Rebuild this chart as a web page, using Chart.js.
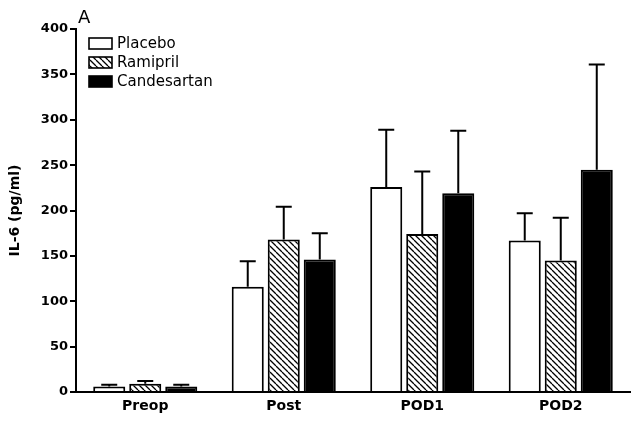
<!DOCTYPE html>
<html>
<head>
<meta charset="utf-8">
<script src="https://cdn.jsdelivr.net/npm/chart.js@4.4.0/dist/chart.umd.min.js"></script>
<style>
html,body{margin:0;padding:0;background:#fff;}
#wrap{width:634px;height:422px;position:relative;}
</style>
</head>
<body>
<div id="wrap"><canvas id="c" width="634" height="422"></canvas></div>
<script>
const categories = ['Preop', 'Post', 'POD1', 'POD2'];
const placebo = [6, 116, 226, 167];
const placeboErr = [2, 28, 63, 30];
const ramipril = [9, 168, 174, 145];
const ramiprilErr = [3, 36, 69, 47];
const candesartan = [6, 146, 219, 245];
const candesartanErr = [2, 29, 69, 116];
const yTicks = [0, 50, 100, 150, 200, 250, 300, 350, 400];

function hatch() {
  const s = 6;
  const c = document.createElement('canvas');
  c.width = s; c.height = s;
  const g = c.getContext('2d');
  g.fillStyle = '#fff'; g.fillRect(0, 0, s, s);
  g.strokeStyle = '#000'; g.lineWidth = 1.3;
  g.beginPath();
  for (const x0 of [-s, 0, s]) { g.moveTo(x0, 0); g.lineTo(x0 + s, s); }
  g.stroke();
  return g.createPattern(c, 'repeat');
}
const hatchPattern = hatch();

const errorBars = {
  id: 'errorBars',
  afterDatasetsDraw(chart) {
    const ctx = chart.ctx, ys = chart.scales.y;
    ctx.save();
    ctx.strokeStyle = '#000'; ctx.lineWidth = 2;
    chart.data.datasets.forEach((ds, di) => {
      const meta = chart.getDatasetMeta(di);
      meta.data.forEach((bar, i) => {
        const top = ys.getPixelForValue(ds.data[i] + ds.err[i]);
        ctx.beginPath();
        ctx.moveTo(bar.x, bar.y);
        ctx.lineTo(bar.x, top);
        ctx.moveTo(bar.x - 8, top);
        ctx.lineTo(bar.x + 8, top);
        ctx.stroke();
      });
    });
    ctx.restore();
  }
};

const legendPlugin = {
  id: 'boxLegend',
  afterDraw(chart) {
    const ctx = chart.ctx;
    ctx.save();
    const x = 89, y0 = 38, step = 19, w = 23, h = 11;
    chart.data.datasets.forEach((ds, i) => {
      const y = y0 + i * step;
      ctx.fillStyle = ds.backgroundColor;
      ctx.fillRect(x, y, w, h);
      ctx.strokeStyle = '#000'; ctx.lineWidth = 1.6;
      ctx.strokeRect(x, y, w, h);
      ctx.fillStyle = '#000';
      ctx.font = '15px "DejaVu Sans"';
      ctx.textBaseline = 'middle';
      ctx.textAlign = 'left';
      ctx.fillText(ds.label, x + 28, y + h / 2 + 0.5);
    });
    ctx.font = '18px "DejaVu Sans"';
    ctx.textBaseline = 'alphabetic';
    ctx.fillText('A', 78, 23);
    ctx.restore();
  }
};

const barStyle = { borderColor: '#000', borderWidth: 2, categoryPercentage: 0.78, barPercentage: 0.89 };

new Chart(document.getElementById('c'), {
  type: 'bar',
  data: {
    labels: categories,
    datasets: [
      Object.assign({ label: 'Placebo', data: placebo, err: placeboErr, backgroundColor: '#ffffff' }, barStyle),
      Object.assign({ label: 'Ramipril', data: ramipril, err: ramiprilErr, backgroundColor: hatchPattern }, barStyle),
      Object.assign({ label: 'Candesartan', data: candesartan, err: candesartanErr, backgroundColor: '#000000' }, barStyle)
    ]
  },
  options: {
    responsive: false,
    animation: false,
    devicePixelRatio: 1,
    layout: { padding: { top: 29, right: 4, left: 0, bottom: 0 } },
    plugins: { legend: { display: false }, tooltip: { enabled: false } },
    scales: {
      x: {
        grid: { display: true, drawOnChartArea: false, drawTicks: false },
        border: { display: true, color: '#000', width: 2 },
        ticks: { color: '#000', font: { family: 'DejaVu Sans', size: 14, weight: 'bold' }, padding: 6 },
        afterFit(s) { s.height = 30; }
      },
      y: {
        min: 0, max: 400,
        afterBuildTicks(s) { s.ticks = yTicks.map(v => ({ value: v })); },
        grid: { display: true, drawOnChartArea: false, drawTicks: true, tickLength: 6, color: '#000', lineWidth: 2 },
        border: { display: true, color: '#000', width: 2 },
        ticks: { color: '#000', font: { family: 'DejaVu Sans', size: 13, weight: 'bold' }, padding: 2 },
        title: { display: true, text: 'IL-6 (pg/ml)', color: '#000', font: { family: 'DejaVu Sans', size: 14, weight: 'bold' }, padding: { top: 7, bottom: 0 } },
        afterFit(s) { s.width = 76; }
      }
    }
  },
  plugins: [errorBars, legendPlugin]
});
</script>
</body>
</html>
